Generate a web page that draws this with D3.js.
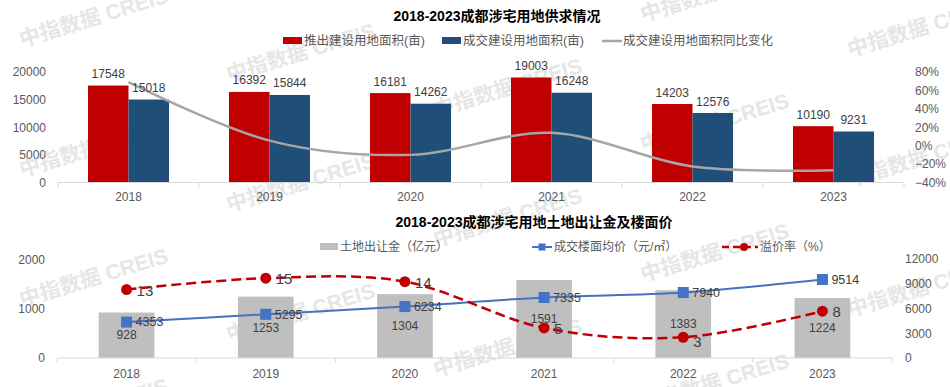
<!DOCTYPE html>
<html>
<head>
<meta charset="utf-8">
<script src="https://cdn.jsdelivr.net/npm/d3@7"></script>
<style>
  body { margin: 0; background: #fff; }
  svg text { font-family: "Liberation Sans", Arial, "Noto Sans CJK SC", sans-serif; }
</style>
</head>
<body>
<svg id="chart" width="950" height="387"></svg>
<script>
// data
let years = ["2018", "2019", "2020", "2021", "2022", "2023"];
let supplyArea = [17548, 16392, 16181, 19003, 14203, 10190];
let dealArea = [15018, 15844, 14262, 16248, 12576, 9231];
let dealYoY = [0.69, 0.055, -0.10, 0.139, -0.226, -0.266];

let landPremium = [928, 1253, 1304, 1591, 1383, 1224];
let floorPrice = [4353, 5295, 6234, 7335, 7940, 9514];
let premiumRate = [12.7, 15, 14.3, 4.9, 3, 8.3];

let leftTicks1 = [0, 5000, 10000, 15000, 20000];
let rightTicks1 = [-0.4, -0.2, 0, 0.2, 0.4, 0.6, 0.8];
let leftTicks2 = [0, 1000, 2000];
let rightTicks2 = [0, 3000, 6000, 9000, 12000];

let svg = d3.select("#chart");

let RED = "#c00000", NAVY = "#1f4e79", GRAY_LINE = "#a6a6a6",
    BAR_GRAY = "#bfbfbf", BLUE = "#4472c4", AXIS = "#d9d9d9",
    TICK_TXT = "#595959", LABEL = "#404040";

// watermark behind everything
let wm = svg.append("g");
for (let i = 0; i < 5; i++) {
  for (let j = -2; j < 4; j++) {
    let x = 22 + 207 * i, y = 47 + 35 * i + 130 * j;
    wm.append("text")
      .attr("transform", `translate(${x}, ${y}) rotate(-17)`)
      .style("font-size", "21px")
      .style("font-weight", "bold")
      .style("fill", "#e6e6e6")
      .text("中指数据  CREIS");
  }
}

function boundaryTicks(g, xs, y) {
  g.selectAll("line.bt").data(xs).enter().append("line")
    .attr("x1", d => d).attr("x2", d => d)
    .attr("y1", y).attr("y2", y + 5)
    .attr("stroke", AXIS);
}

function styleAxis(g, size, color) {
  g.select(".domain").remove();
  g.selectAll("text").style("font-size", size).style("fill", color);
}

// ---------- chart 1 ----------
let g1 = svg.append("g");
let x1 = d3.scaleBand().domain(years).range([58, 904]).padding(0);
let xs1 = d3.scaleBand().domain(["supply", "deal"]).range([0, x1.bandwidth()])
            .paddingInner(0).paddingOuter(0.74);
let y1 = d3.scaleLinear().domain([0, 20000]).range([182.5, 72]);
let y1r = d3.scaleLinear().domain([-0.4, 0.8]).range([182.5, 72]);

g1.append("text")
  .attr("x", 497).attr("y", 21)
  .style("text-anchor", "middle")
  .style("font-size", "14px").style("font-weight", "bold").style("fill", "#000")
  .text("2018-2023成都涉宅用地供求情况");

let rows1 = years.map((y, i) => ({year: y, supply: supplyArea[i], deal: dealArea[i]}));
let barColor1 = {supply: RED, deal: NAVY};

rows1.forEach(r => {
  ["supply", "deal"].forEach(k => {
    g1.append("rect")
      .attr("x", x1(r.year) + xs1(k))
      .attr("y", y1(r[k]))
      .attr("width", xs1.bandwidth())
      .attr("height", y1(0) - y1(r[k]))
      .attr("fill", barColor1[k]);
  });
});

g1.append("line")
  .attr("x1", 58).attr("x2", 904).attr("y1", 182.5).attr("y2", 182.5)
  .attr("stroke", AXIS);
boundaryTicks(g1, years.map(y => x1(y)).concat([904]), 182.5);

let line1 = d3.line()
  .x((d, i) => x1(years[i]) + x1.bandwidth() / 2)
  .y(d => y1r(d))
  .curve(d3.curveCardinal.tension(0));
g1.append("path")
  .attr("d", line1(dealYoY))
  .attr("fill", "none")
  .attr("stroke", GRAY_LINE)
  .attr("stroke-width", 2.5);

rows1.forEach(r => {
  ["supply", "deal"].forEach(k => {
    g1.append("text")
      .attr("x", x1(r.year) + xs1(k) + xs1.bandwidth() / 2)
      .attr("y", y1(r[k]) - 7.5)
      .style("text-anchor", "middle")
      .style("font-size", "12px").style("fill", LABEL)
      .text(r[k]);
  });
});

let ax1 = g1.append("g").attr("transform", "translate(58,0)")
  .call(d3.axisLeft(y1).tickValues(leftTicks1).tickSize(0).tickPadding(12).tickFormat(d3.format("d")));
styleAxis(ax1, "12px", TICK_TXT);
let ax1r = g1.append("g").attr("transform", "translate(904,0)")
  .call(d3.axisRight(y1r).tickValues(rightTicks1).tickSize(0).tickPadding(11).tickFormat(d3.format(".0%")));
styleAxis(ax1r, "12px", TICK_TXT);
let ax1b = g1.append("g").attr("transform", "translate(0,182.5)")
  .call(d3.axisBottom(x1).tickSize(0).tickPadding(10));
styleAxis(ax1b, "12px", TICK_TXT);

// legend 1
let leg1 = g1.append("g").style("font-size", "12.5px");
leg1.append("rect").attr("x", 283).attr("y", 37).attr("width", 19).attr("height", 7).attr("fill", RED);
leg1.append("text").attr("x", 304).attr("y", 45).style("fill", TICK_TXT).text("推出建设用地面积(亩)");
leg1.append("rect").attr("x", 442).attr("y", 37).attr("width", 19).attr("height", 7).attr("fill", NAVY);
leg1.append("text").attr("x", 463).attr("y", 45).style("fill", TICK_TXT).text("成交建设用地面积(亩)");
leg1.append("line").attr("x1", 602).attr("x2", 622).attr("y1", 41).attr("y2", 41)
  .attr("stroke", GRAY_LINE).attr("stroke-width", 2.5);
leg1.append("text").attr("x", 623).attr("y", 45).style("fill", TICK_TXT).text("成交建设用地面积同比变化");

// ---------- chart 2 ----------
let g2 = svg.append("g");
let x2 = d3.scaleBand().domain(years).range([57, 892]).padding(0);
let y2 = d3.scaleLinear().domain([0, 2000]).range([358, 260]);
let y2r = d3.scaleLinear().domain([0, 12000]).range([358, 259]);
let y2rate = d3.scaleLinear().domain([0, 20]).range([352, 253.6]);
let cx2 = d => x2(d) + x2.bandwidth() / 2;

g2.append("text")
  .attr("x", 534).attr("y", 227)
  .style("text-anchor", "middle")
  .style("font-size", "14px").style("font-weight", "bold").style("fill", "#000")
  .text("2018-2023成都涉宅用地土地出让金及楼面价");

let bw2 = x2.bandwidth() * 0.4;
g2.selectAll("rect.bar").data(landPremium).enter().append("rect")
  .attr("x", (d, i) => cx2(years[i]) - bw2 / 2)
  .attr("y", d => y2(d))
  .attr("width", bw2)
  .attr("height", d => y2(0) - y2(d))
  .attr("fill", BAR_GRAY);

g2.append("line")
  .attr("x1", 57).attr("x2", 892).attr("y1", 358).attr("y2", 358)
  .attr("stroke", AXIS);
boundaryTicks(g2, years.map(y => x2(y)).concat([892]), 358);

g2.selectAll("text.barlab").data(landPremium).enter().append("text")
  .attr("x", (d, i) => cx2(years[i]))
  .attr("y", d => (y2(d) + y2(0)) / 2)
  .attr("dy", "0.35em")
  .style("text-anchor", "middle")
  .style("font-size", "12px").style("fill", LABEL)
  .text(d => d);

// floor price line
let line2 = d3.line()
  .x((d, i) => cx2(years[i]))
  .y(d => y2r(d))
  .curve(d3.curveCardinal.tension(0));
g2.append("path")
  .attr("d", line2(floorPrice))
  .attr("fill", "none").attr("stroke", BLUE).attr("stroke-width", 2);
g2.selectAll("rect.mk").data(floorPrice).enter().append("rect")
  .attr("x", (d, i) => cx2(years[i]) - 5.5)
  .attr("y", d => y2r(d) - 5.5)
  .attr("width", 11).attr("height", 11)
  .attr("fill", BLUE);

// premium rate line
let line3 = d3.line()
  .x((d, i) => cx2(years[i]))
  .y(d => y2rate(d))
  .curve(d3.curveCardinal.tension(0));
g2.append("path")
  .attr("d", line3(premiumRate))
  .attr("fill", "none").attr("stroke", RED).attr("stroke-width", 2.5)
  .attr("stroke-dasharray", "10,5");
g2.selectAll("circle.mk").data(premiumRate).enter().append("circle")
  .attr("cx", (d, i) => cx2(years[i]))
  .attr("cy", d => y2rate(d))
  .attr("r", 5.5)
  .attr("fill", RED);

g2.selectAll("text.fplab").data(floorPrice).enter().append("text")
  .attr("x", (d, i) => cx2(years[i]) + 9)
  .attr("y", d => y2r(d))
  .attr("dy", "0.35em")
  .style("font-size", "12.5px").style("fill", LABEL)
  .text(d => d);

g2.selectAll("text.ratelab").data(premiumRate).enter().append("text")
  .attr("x", (d, i) => cx2(years[i]) + 10)
  .attr("y", (d, i) => y2rate(d) + (i === 4 ? 5 : 1))
  .attr("dy", "0.35em")
  .style("font-size", "15px").style("fill", LABEL)
  .text(d => d3.format(".0f")(d));

let ax2 = g2.append("g").attr("transform", "translate(57,0)")
  .call(d3.axisLeft(y2).tickValues(leftTicks2).tickSize(0).tickPadding(12).tickFormat(d3.format("d")));
styleAxis(ax2, "12px", TICK_TXT);
let ax2r = g2.append("g").attr("transform", "translate(892,0)")
  .call(d3.axisRight(y2r).tickValues(rightTicks2).tickSize(0).tickPadding(13).tickFormat(d3.format("d")));
styleAxis(ax2r, "12px", TICK_TXT);
let ax2b = g2.append("g").attr("transform", "translate(0,358)")
  .call(d3.axisBottom(x2).tickSize(0).tickPadding(11));
styleAxis(ax2b, "12px", TICK_TXT);

// legend 2
let leg2 = g2.append("g").style("font-size", "12px");
leg2.append("rect").attr("x", 320).attr("y", 243).attr("width", 18).attr("height", 7).attr("fill", BAR_GRAY);
leg2.append("text").attr("x", 340).attr("y", 251).style("fill", TICK_TXT).text("土地出让金（亿元）");
leg2.append("line").attr("x1", 532).attr("x2", 552).attr("y1", 247).attr("y2", 247)
  .attr("stroke", BLUE).attr("stroke-width", 2);
leg2.append("rect").attr("x", 538.5).attr("y", 243.5).attr("width", 7).attr("height", 7).attr("fill", BLUE);
leg2.append("text").attr("x", 554).attr("y", 251).style("fill", TICK_TXT).text("成交楼面均价（元/㎡）");
leg2.append("line").attr("x1", 722).attr("x2", 758).attr("y1", 247).attr("y2", 247)
  .attr("stroke", RED).attr("stroke-width", 2.5).attr("stroke-dasharray", "7,4");
leg2.append("circle").attr("cx", 744).attr("cy", 247).attr("r", 4).attr("fill", RED);
leg2.append("text").attr("x", 760).attr("y", 251).style("fill", TICK_TXT).text("溢价率（%）");
</script>
</body>
</html>
